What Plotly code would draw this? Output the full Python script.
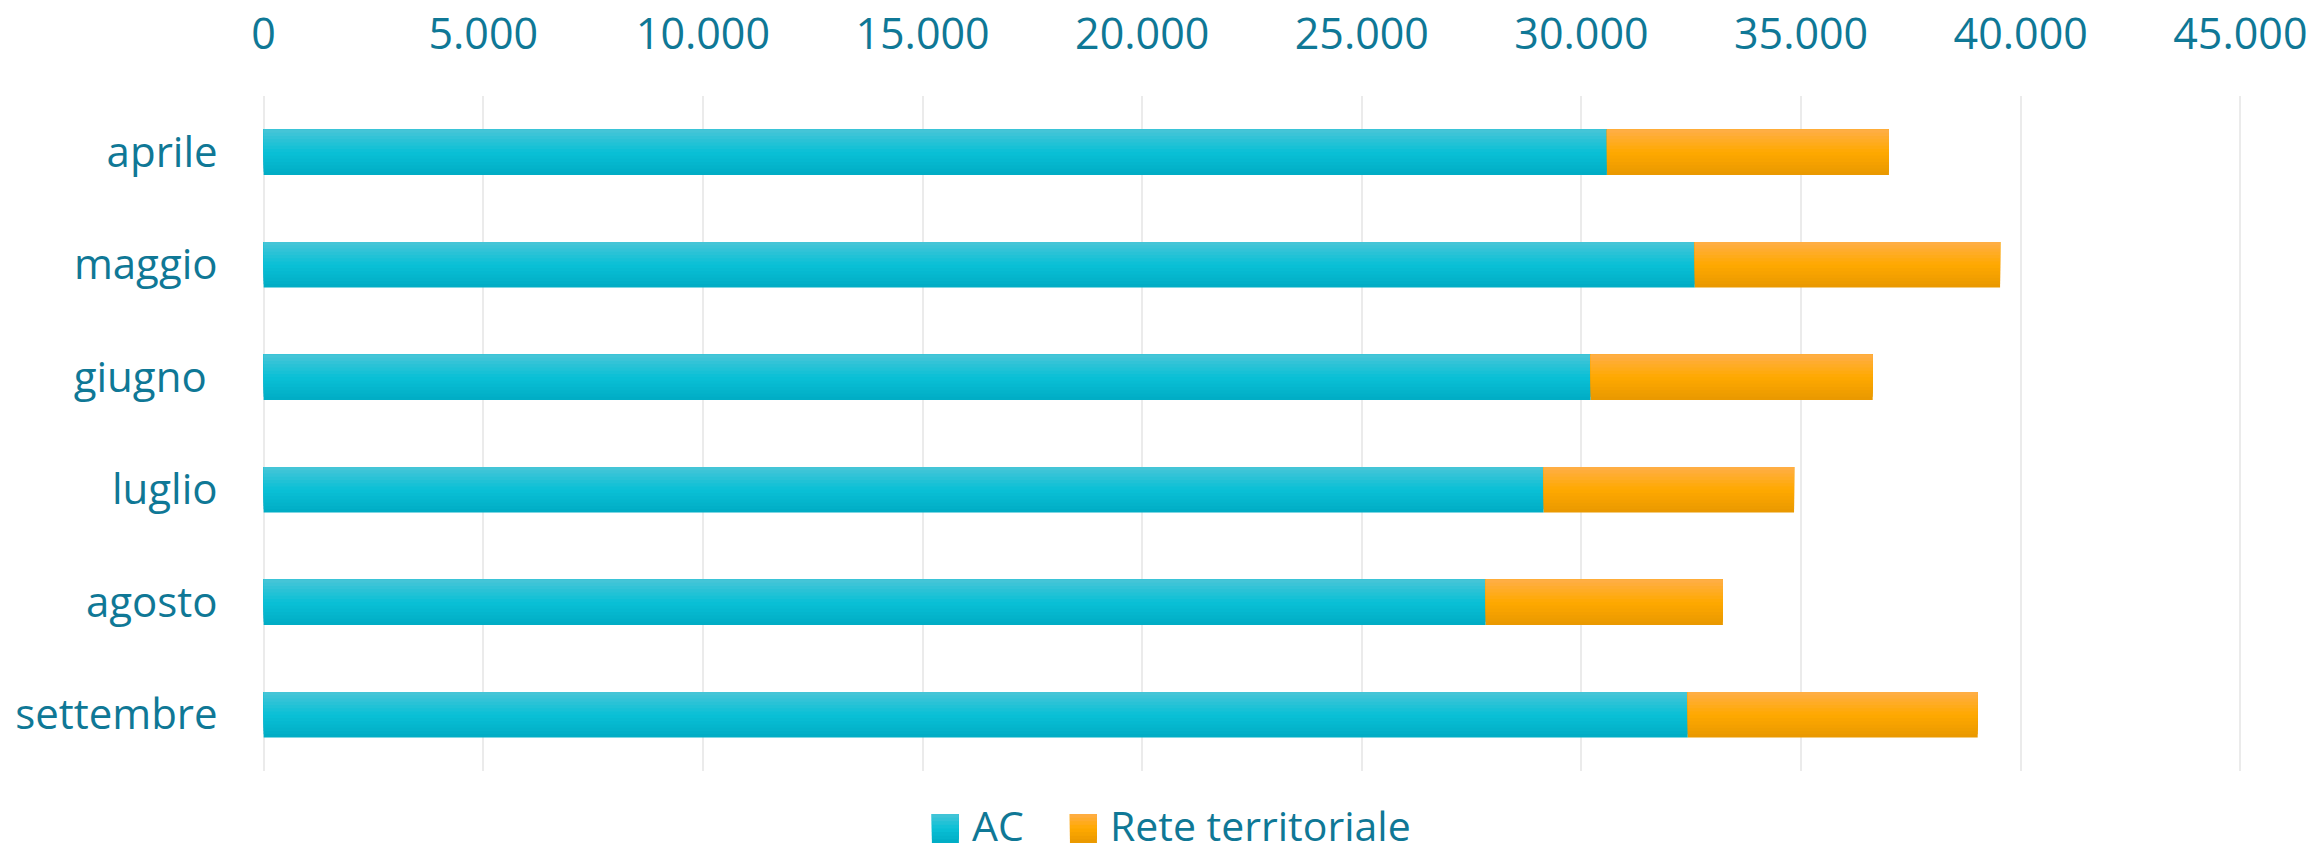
import plotly.graph_objects as go

months = ["aprile", "maggio", "giugno\u00a0", "luglio", "agosto", "settembre"]
ac_values = [30580, 32580, 30210, 29140, 27820, 32420]
rete_values = [6420, 6950, 6420, 5700, 5400, 6600]
x_ticks = [0, 5000, 10000, 15000, 20000, 25000, 30000, 35000, 40000, 45000]
series_names = ["AC", "Rete territoriale"]

TEXT = "#0f7896"
FONT = "Open Sans"
BAR_W = 0.404
N = 14

ac_grad = [(0x48, 0xc5, 0xd7), (0x0a, 0xc0, 0xd6), (0x00, 0xac, 0xc4)]
or_grad = [(0xff, 0xae, 0x48), (0xff, 0xa9, 0x00), (0xe8, 0x98, 0x00)]


def interp(stops, t):
    if t <= 0.5:
        a, b, u = stops[0], stops[1], t / 0.5
    else:
        a, b, u = stops[1], stops[2], (t - 0.5) / 0.5
    return "rgb(%d,%d,%d)" % tuple(round(a[i] + (b[i] - a[i]) * u) for i in range(3))


fig = go.Figure()
ypos = list(range(len(months)))


def add_series(name, values, bases, stops):
    # nested bars anchored at the top edge to fake a vertical gradient
    for k in range(N):
        frac = (N - k) / N
        t = (N - k - 0.5) / N
        fig.add_trace(go.Bar(
            y=ypos, x=values, base=bases, orientation="h",
            width=BAR_W * frac, offset=-BAR_W / 2,
            marker=dict(color=interp(stops, t), line=dict(width=0)),
            name=name, showlegend=False,
            hovertemplate=name + ": %{x:,d}<extra></extra>" if k == 0 else None,
            hoverinfo=None if k == 0 else "skip",
        ))


add_series(series_names[0], ac_values, [0] * len(months), ac_grad)
add_series(series_names[1], rete_values, ac_values, or_grad)

# axis geometry: 0 at x=264 px, 45000 at x=2240 px, with a little padding so edge gridlines show
PAD = 60
X_MIN, X_MAX = -PAD, 45000 + PAD
PX_PER_UNIT = 1976 / 45000
PLOT_L = 264 - PAD * PX_PER_UNIT
PLOT_W = (X_MAX - X_MIN) * PX_PER_UNIT
PLOT_R = 2313 - PLOT_L - PLOT_W
PLOT_T, PLOT_H = 96, 675
FIG_H = 856


def px_to_paper_x(px):
    return (px - PLOT_L) / PLOT_W


def px_to_paper_y(py):
    return (PLOT_T + PLOT_H - py) / PLOT_H


# legend drawn as swatches + labels below the plot (paper coordinates)
legend_items = [(series_names[0], ac_grad, 932), (series_names[1], or_grad, 1070)]
SW = 27
SY0, SY1 = 814, 843
shapes = []
annotations = []
for name, stops, x0 in legend_items:
    M = 8
    for k in range(M):
        top = SY0
        bottom = SY0 + (SY1 - SY0) * (M - k) / M
        shapes.append(dict(
            type="rect", xref="paper", yref="paper",
            x0=px_to_paper_x(x0), x1=px_to_paper_x(x0 + SW),
            y0=px_to_paper_y(bottom), y1=px_to_paper_y(top),
            fillcolor=interp(stops, (M - k - 0.5) / M), line=dict(width=0),
            layer="above",
        ))
    annotations.append(dict(
        text=name, xref="paper", yref="paper",
        x=px_to_paper_x(x0 + SW + 11), y=px_to_paper_y(FIG_H - 1),
        xanchor="left", yanchor="bottom", showarrow=False,
        font=dict(size=41, color=TEXT, family=FONT),
    ))

fig.update_layout(
    width=2313, height=FIG_H,
    barmode="overlay",
    separators=",.",
    paper_bgcolor="white", plot_bgcolor="white",
    margin=dict(l=PLOT_L, r=PLOT_R, t=PLOT_T, b=FIG_H - PLOT_T - PLOT_H, pad=0, autoexpand=False),
    font=dict(family=FONT, color=TEXT, size=42),
    showlegend=False,
    shapes=shapes,
    annotations=annotations,
    xaxis=dict(
        side="top", range=[X_MIN, X_MAX], tickvals=x_ticks, tickformat=",d",
        showgrid=True, gridcolor="#ebebeb", gridwidth=2,
        zeroline=False, showline=False,
        ticks="outside", ticklen=29, tickcolor="rgba(0,0,0,0)",
        tickfont=dict(size=43, color=TEXT, family=FONT),
    ),
    yaxis=dict(
        tickvals=ypos, ticktext=months, range=[5.5, -0.5],
        showgrid=False, zeroline=False, showline=False,
        ticks="outside", ticklen=34, tickcolor="rgba(0,0,0,0)",
        tickfont=dict(size=42, color=TEXT, family=FONT),
    ),
)

fig.write_html(
    "out.html",
    config={"displayModeBar": False},
    post_script="document.body.style.margin='0';document.body.style.overflow='hidden';",
)
